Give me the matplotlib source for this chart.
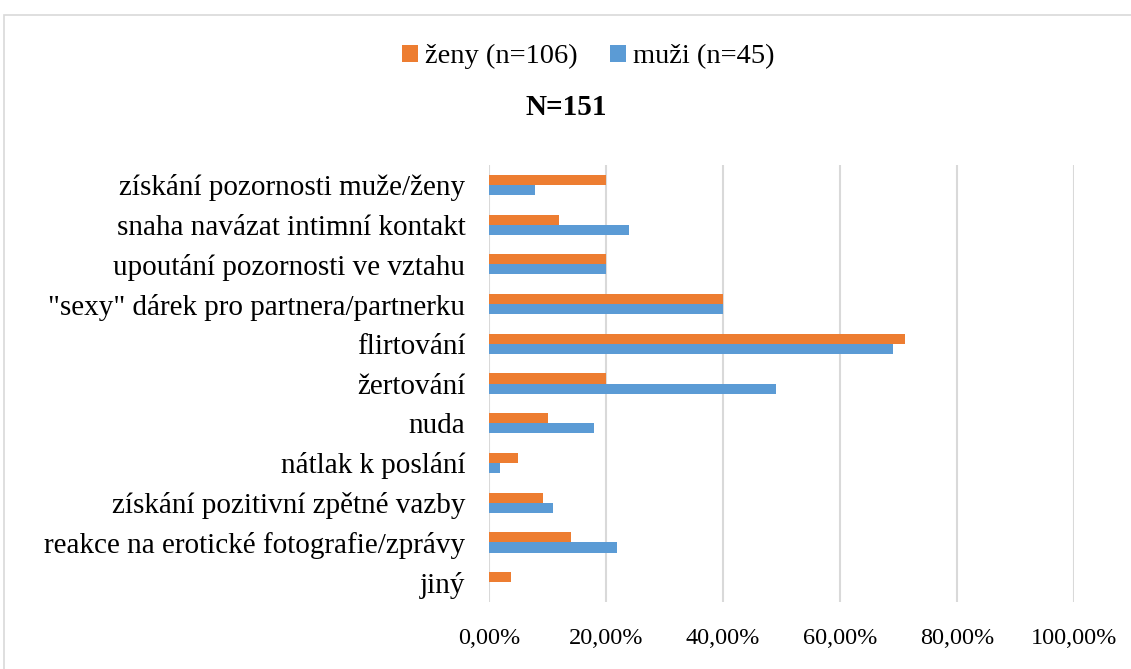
import numpy as np
import matplotlib.pyplot as plt
from matplotlib.patches import Rectangle
from matplotlib.ticker import FuncFormatter

plt.rcParams["font.family"] = ["Liberation Serif", "DejaVu Serif"]

# categories, top to bottom
categories = [
    "získání pozornosti muže/ženy",
    "snaha navázat intimní kontakt",
    "upoutání pozornosti ve vztahu",
    "\"sexy\" dárek pro partnera/partnerku",
    "flirtování",
    "žertování",
    "nuda",
    "nátlak k poslání",
    "získání pozitivní zpětné vazby",
    "reakce na erotické fotografie/zprávy",
    "jiný",
]
zeny = [20.0, 12.0, 20.0, 40.0, 71.1, 20.0, 10.0, 5.0, 9.3, 14.0, 3.8]
muzi = [7.9, 23.9, 20.0, 40.0, 69.1, 49.0, 18.0, 1.9, 11.0, 21.9, 0.0]
xticks = [0, 20, 40, 60, 80, 100]


def main():
    fig = plt.figure(figsize=(11.31, 6.69), dpi=100)
    ax = fig.add_axes([0.4324, 0.1001, 0.5172, 0.6532])

    y = np.arange(len(categories))
    h = 0.255
    ax.barh(y - h / 2, zeny, height=h, color='#ED7D31', label='ženy (n=106)', zorder=3)
    ax.barh(y + h / 2, muzi, height=h, color='#5B9BD5', label='muži (n=45)', zorder=3)

    ax.set_ylim(len(categories) - 0.5, -0.5)
    ax.set_xlim(0, 100)
    ax.set_yticks(y)
    ax.set_yticklabels(categories, fontsize=21)
    ax.set_xticks(xticks)
    ax.xaxis.set_major_formatter(FuncFormatter(lambda v, p: f'{v:.2f}%'.replace('.', ',')))
    ax.tick_params(axis='x', labelsize=17.5, length=0, pad=19)
    ax.tick_params(axis='y', length=0, pad=17)
    for s in ax.spines.values():
        s.set_visible(False)
    ax.grid(axis='x', color='#D9D9D9', linewidth=1.5, zorder=0)

    fig.legend(loc='center', bbox_to_anchor=(0.52, 0.915), ncol=2, frameon=False,
               fontsize=20.5, handlelength=0.55, handleheight=0.55, handletextpad=0.25,
               columnspacing=1.15)
    fig.text(0.5007, 0.84, 'N=151', ha='center', va='center', fontsize=21, fontweight='bold')

    fig.patches.append(Rectangle((4 / 1131, -0.1), 1.2, 1.1 - 15 / 669, transform=fig.transFigure,
                                 fill=False, edgecolor='#D9D9D9', linewidth=1.2))
    fig.savefig('out.png', dpi=100)


if __name__ == '__main__':
    main()
